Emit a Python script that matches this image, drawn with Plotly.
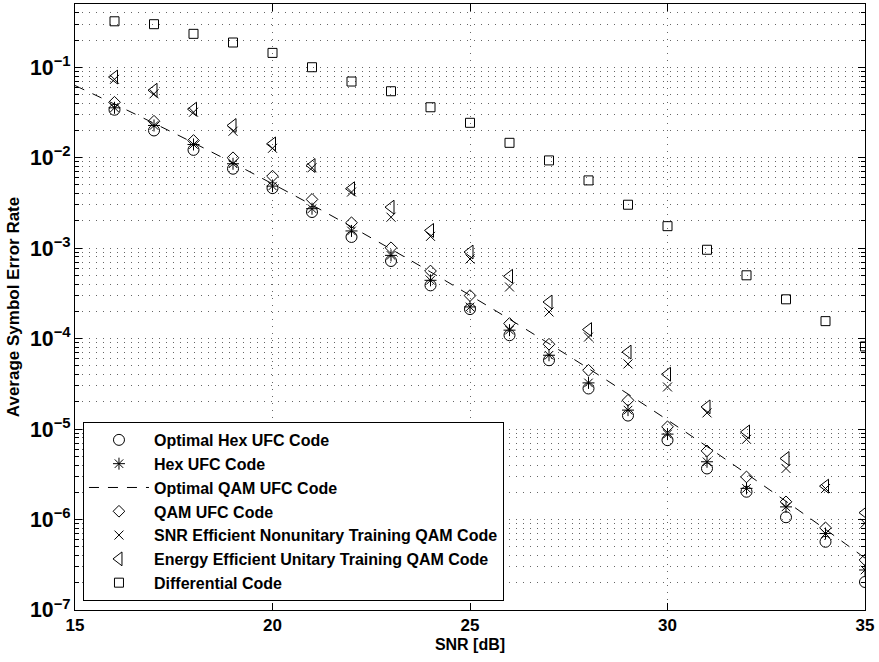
import plotly.graph_objects as go

snr = list(range(16, 36))
snr_line = list(range(15, 36))

optimal_hex = [0.0339, 0.0200, 0.0122, 0.00755, 0.00461, 0.00251, 0.00133, 0.000721, 0.000388, 0.000212,
               0.000109, 5.77e-5, 2.81e-5, 1.41e-5, 7.54e-6, 3.67e-6, 2.03e-6, 1.06e-6, 5.68e-7, 2.04e-7]
hex_ufc = [0.0356, 0.0227, 0.0140, 0.00857, 0.00485, 0.00273, 0.00155, 0.000832, 0.000441, 0.000224,
           0.000124, 6.55e-5, 3.24e-5, 1.62e-5, 8.8e-6, 4.35e-6, 2.21e-6, 1.38e-6, 7.0e-7, 2.77e-7]
optimal_qam = [0.0628, 0.0391, 0.0240, 0.01459, 0.00873, 0.00514, 0.00300, 0.001722, 0.000975, 0.000546,
               0.000301, 0.000164, 8.8e-5, 4.67e-5, 2.44e-5, 1.26e-5, 6.41e-6, 3.21e-6, 1.59e-6, 7.78e-7, 3.75e-7]
qam_ufc = [0.0410, 0.0253, 0.0155, 0.00998, 0.00625, 0.00346, 0.00191, 0.00101, 0.000559, 0.000299,
           0.000147, 8.67e-5, 4.47e-5, 2.08e-5, 1.06e-5, 5.74e-6, 2.96e-6, 1.57e-6, 8.1e-7, 3.57e-7]
snr_eff = [0.0735, 0.0508, 0.0318, 0.0196, 0.0127, 0.00774, 0.00417, 0.00220, 0.00135, 0.000759,
           0.000372, 0.000197, 0.000104, 5.25e-5, 2.92e-5, 1.51e-5, 7.7e-6, 3.67e-6, 2.2e-6, 9.1e-7]
energy_eff = [0.0780, 0.0557, 0.0344, 0.0227, 0.0142, 0.0082, 0.00454, 0.00284, 0.00157, 0.000906,
              0.000489, 0.000254, 0.000126, 7.1e-5, 4.04e-5, 1.76e-5, 9.3e-6, 4.73e-6, 2.34e-6, 1.19e-6]
differential = [0.322, 0.299, 0.234, 0.1876, 0.144, 0.100, 0.0695, 0.0543, 0.0361, 0.0243,
                0.0146, 0.00933, 0.00561, 0.00302, 0.00175, 0.00096, 0.000501, 0.000272, 0.000156, 8.2e-5]

names = ["Optimal Hex UFC Code", "Hex UFC Code", "Optimal QAM UFC Code", "QAM UFC Code",
         "SNR Efficient Nonunitary Training QAM Code", "Energy Efficient Unitary Training QAM Code",
         "Differential Code"]

FONT = "Liberation Sans"
fig = go.Figure()

def mk(sym, size):
    return dict(symbol=sym, size=size, color="black", line=dict(width=1, color="black"))

fig.add_trace(go.Scatter(x=snr, y=optimal_hex, mode="markers", name=names[0], marker=mk("circle-open", 11)))
fig.add_trace(go.Scatter(x=snr, y=hex_ufc, mode="markers", name=names[1], marker=mk("asterisk-open", 10)))
fig.add_trace(go.Scatter(x=snr_line, y=optimal_qam, mode="lines", name=names[2],
                         line=dict(color="black", width=1, dash="10px,9px", shape="spline")))
fig.add_trace(go.Scatter(x=snr, y=qam_ufc, mode="markers", name=names[3], marker=mk("diamond-open", 9)))
fig.add_trace(go.Scatter(x=snr, y=snr_eff, mode="markers", name=names[4], marker=mk("x-thin-open", 9)))
fig.add_trace(go.Scatter(x=snr, y=energy_eff, mode="markers", name=names[5], marker=mk("triangle-left-open", 12)))
fig.add_trace(go.Scatter(x=snr, y=differential, mode="markers", name=names[6], marker=mk("square-open", 9)))

grid_dash = "1px,6px"
GRID = "#666"
fig.update_layout(
    width=879, height=662,
    margin=dict(l=75, r=14, t=4, b=52),
    paper_bgcolor="white", plot_bgcolor="white",
    font=dict(family=FONT, color="black", size=16, weight="bold"),
    showlegend=True,
    legend=dict(x=0.0101, y=0.0149, xanchor="left", yanchor="bottom",
                bgcolor="white", bordercolor="black", borderwidth=1,
                font=dict(family=FONT, size=16, weight="bold", color="black"),
                itemwidth=60, tracegroupgap=0),
    xaxis=dict(
        range=[15, 35], tickvals=[15, 20, 25, 30, 35],
        ticks="inside", ticklen=7, tickcolor="black",
        showline=True, linecolor="black", linewidth=1, mirror="ticks",
        showgrid=True, gridcolor=GRID, griddash=grid_dash, gridwidth=1,
        zeroline=False,
        tickfont=dict(family=FONT, size=17, weight="bold"),
        title=dict(text="SNR [dB]", font=dict(family=FONT, size=16, weight="bold"), standoff=4),
    ),
    yaxis=dict(
        type="log", range=[-7, -0.30103], dtick=1, exponentformat="power",
        ticks="inside", ticklen=7, tickcolor="black",
        showline=True, linecolor="black", linewidth=1, mirror="ticks",
        showgrid=True, gridcolor=GRID, griddash=grid_dash, gridwidth=1,
        zeroline=False,
        minor=dict(dtick="D1", ticks="inside", ticklen=4, tickcolor="black",
                   showgrid=True, gridcolor=GRID, griddash=grid_dash, gridwidth=1),
        tickfont=dict(family=FONT, size=17, weight="bold"),
        title=dict(text="Average Symbol Error Rate", font=dict(family=FONT, size=17, weight="bold"), standoff=6),
    ),
)

fig.write_html("out.html", config={"displayModeBar": False},
               post_script="document.body.style.margin='0px';")
